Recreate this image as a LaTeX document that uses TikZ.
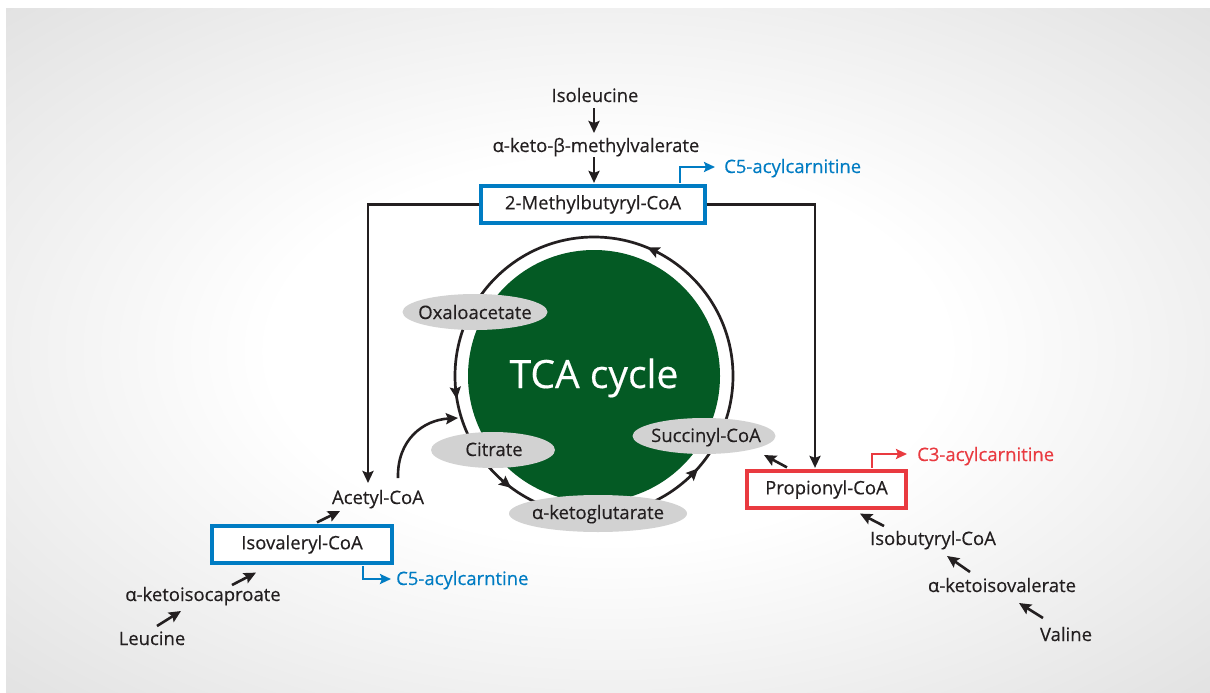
\documentclass[tikz,border=0pt]{standalone}
\usepackage{fontspec}
\setmainfont{Open Sans}[UprightFeatures={FakeBold=0.35}]
\usetikzlibrary{arrows.meta,calc,shapes.geometric}
\definecolor{cblue}{RGB}{0,124,195}
\definecolor{cred}{RGB}{233,58,64}
\definecolor{cgreen}{RGB}{4,90,36}
\definecolor{cgray}{RGB}{210,210,210}
\definecolor{ctext}{RGB}{35,31,32}
\definecolor{bgedge}{RGB}{220,220,220}
\pgfdeclareradialshading{bgshade}{\pgfpoint{0bp}{0bp}}{%
  color(0bp)=(white); color(14bp)=(white); color(40bp)=(bgedge); color(80bp)=(bgedge)}
\tikzset{
  lbl/.style={inner sep=0pt, anchor=base, text=ctext, font=\fontsize{18.5}{22}\selectfont},
  boxed/.style={draw, line width=3.2pt, minimum height=37pt, inner sep=0pt, text=ctext, font=\fontsize{18.5}{22}\selectfont},
  oval/.style={ellipse, fill=cgray, inner sep=0pt, text=ctext, font=\fontsize{18.5}{22}\selectfont},
  arr/.style={line width=2.6pt, draw=ctext, -{Stealth[length=12pt,width=11pt,inset=2pt]}},
  barr/.style={line width=2.6pt, draw=cblue, -{Stealth[length=11pt,width=10pt,inset=2pt]}},
  rarr/.style={line width=2.6pt, draw=cred, -{Stealth[length=11pt,width=10pt,inset=2pt]}},
  ringtip/.style={line width=2.6pt, draw=ctext, -{Stealth[length=12pt,width=11pt,inset=2pt]}},
}
\begin{document}
\begin{tikzpicture}[x=1pt,y=-1pt]
\useasboundingbox (0,0) rectangle (1210,693);
\fill[white] (0,0) rectangle (1210,693);
\shade[shading=bgshade] (6,9) rectangle (1210,693);

% TCA cycle
\coordinate (cc) at (594,376);
\draw[line width=2.7pt, ctext] (cc) circle[radius=139];
\node[circle, fill=cgreen, minimum size=252pt, inner sep=0pt] (tca) at (cc) {};
\node[lbl, text=white, font=\fontsize{39}{44}\selectfont] (tcat) at (594,388) {TCA cycle};

% ring arrowheads
\draw[ringtip] ($(cc)+(64.1,-123.5)$) -- ($(cc)+(53.3,-128.5)$);
\draw[ringtip] ($(cc)+(-138.7,11)$) -- ($(cc)+(-137.3,23)$);
\draw[ringtip] ($(cc)+(-92.2,104.2)$) -- ($(cc)+(-82.8,111.8)$);
\draw[ringtip] ($(cc)+(95.8,100.9)$) -- ($(cc)+(104.2,92.3)$);

% intermediates
\node[oval, minimum width=145pt, minimum height=36pt] (oxa) at (475,312) {};
\node[lbl] at (475,319) {Oxaloacetate};
\node[oval, minimum width=124pt, minimum height=36pt] (cit) at (493,450) {};
\node[lbl] at (494,456) {Citrate};
\node[oval, minimum width=178pt, minimum height=37pt] (akg) at (598,513.5) {};
\node[lbl] at (598,519) {α-ketoglutarate};
\node[oval, minimum width=143pt, minimum height=36pt] (suc) at (704,436) {};
\node[lbl] at (706,442) {Succinyl-CoA};

% top pathway
\node[lbl] (ile) at (595,102) {Isoleucine};
\node[lbl] (kmv) at (596,152) {α-keto-β-methylvalerate};
\node[boxed, draw=cblue, fill=white, minimum width=224pt] (mbc) at (593,204.5) {2-Methylbutyryl-CoA};
\node[lbl, anchor=base west, text=cblue] (c5a) at (724,173) {C5-acylcarnitine};

% left pathway
\node[lbl] (acc) at (378,504) {Acetyl-CoA};
\node[boxed, draw=cblue, fill=white, minimum width=180pt] (ivc) at (302,544.5) {Isovaleryl-CoA};
\node[lbl, anchor=base west, text=cblue] (c5b) at (396,585) {C5-acylcarntine};
\node[lbl] (kic) at (203,601) {α-ketoisocaproate};
\node[lbl] (leu) at (152,645) {Leucine};

% right pathway
\node[boxed, draw=cred, fill=white, minimum width=159pt] (pro) at (826.5,489.5) {Propionyl-CoA};
\node[lbl, anchor=base west, text=cred] (c3) at (917,461) {C3-acylcarnitine};
\node[lbl] (ibc) at (933,545) {Isobutyryl-CoA};
\node[lbl] (kiv) at (1002,592) {α-ketoisovalerate};
\node[lbl] (val) at (1066,641) {Valine};

% connectors
\draw[arr] ($(ile.base)+(-1,6)$) -- ($(kmv.base)+(-2,-19)$);
\draw[arr] ($(kmv.base)+(-2,5)$) -- ($(mbc.north)+(1,-1.5)$);
\draw[barr] ($(mbc.north)+(87,-1.6)$) |- ($(c5a.base west)+(-9,-6)$);
\draw[arr] (mbc.west) -| ($(acc.base)+(-10,-21)$);
\draw[arr] (mbc.east) -| ($(pro.north)+(-11.5,-1.5)$);
\draw[arr] ($(acc.base)+(20,-26)$) .. controls ($(acc.base)+(19,-64)$) and ($(acc.base)+(45,-84)$) .. ($(cc)+(-136,42)$);
\draw[arr] ($(ivc.north)+(15,-2)$) -- ($(acc.base)+(-38,7)$);
\draw[arr] ($(kic.base)+(29,-16)$) -- ($(ivc.south)+(-46,8)$);
\draw[arr] ($(leu.base)+(5,-19)$) -- ($(kic.base)+(-22,10)$);
\draw[barr] ($(ivc.south)+(61,1.6)$) |- ($(c5b.base west)+(-5,-6)$);
\draw[rarr] ($(pro.north)+(45.5,-1.6)$) |- ($(c3.base west)+(-10,-7)$);
\draw[arr] ($(pro.north)+(-39.5,-2)$) -- ($(suc)+(60,19)$);
\draw[arr] ($(ibc.base)+(-49,-19)$) -- ($(pro.south)+(33.5,4)$);
\draw[arr] ($(kiv.base)+(-32,-20)$) -- ($(ibc.base)+(14,11)$);
\draw[arr] ($(val.base)+(-23,-23)$) -- ($(kiv.base)+(17,11)$);
\end{tikzpicture}
\end{document}
